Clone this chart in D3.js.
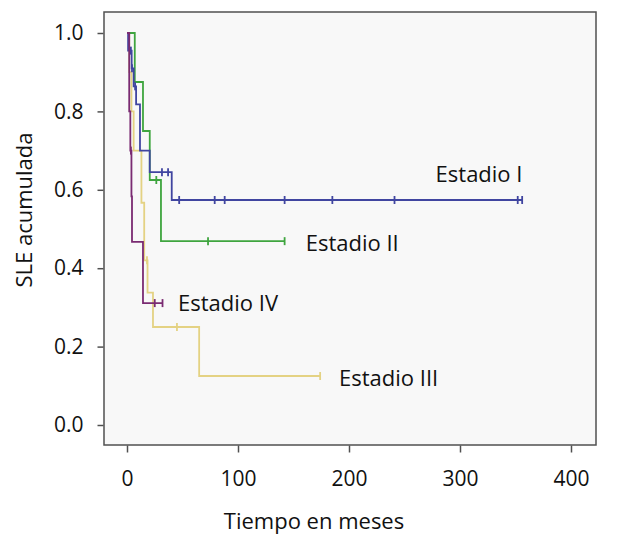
<!DOCTYPE html>
<html>
<head>
<meta charset="utf-8">
<script src="https://cdn.jsdelivr.net/npm/d3@7"></script>
<style>
  html, body { margin: 0; padding: 0; background: #ffffff; }
  svg { display: block; font-family: "Open Sans", "Noto Sans", sans-serif; }
</style>
</head>
<body>
<svg id="chart" width="619" height="535"></svg>
<script>
// ---- Data ----
const xTicks = [0, 100, 200, 300, 400];
const yTicks = [0.0, 0.2, 0.4, 0.6, 0.8, 1.0];
const xTitle = "Tiempo en meses";
const yTitle = "SLE acumulada";

// Estadio I
const s1Times = [0, 1, 4.2, 6, 8.2, 11.7, 20.5, 40.3];
const s1Surv  = [1.0, 0.955, 0.91, 0.864, 0.818, 0.70, 0.645, 0.574];
const s1Cens  = [3.5, 4.5, 7.3, 31.5, 37, 47, 79, 88, 142, 185, 241, 352, 356];
const s1End   = 356;

// Estadio II
const s2Times = [0, 7, 14.4, 20.5, 30.6];
const s2Surv  = [1.0, 0.875, 0.75, 0.625, 0.469];
const s2Cens  = [26.4, 73, 142];
const s2End   = 142;

// Estadio III
const s3Times = [0, 2, 4, 6, 13, 15.5, 18.5, 23.4, 65];
const s3Surv  = [1.0, 0.90, 0.80, 0.70, 0.567, 0.42, 0.3375, 0.25, 0.125];
const s3Cens  = [18, 45, 174];
const s3End   = 174;

// Estadio IV
const s4Times = [0, 2, 3, 4, 4.5, 14.4];
const s4Surv  = [1.0, 0.80, 0.70, 0.583, 0.467, 0.311];
const s4Cens  = [3.5, 25, 32];
const s4End   = 32;

const seriesNames  = ["Estadio I", "Estadio II", "Estadio III", "Estadio IV"];
const seriesColors = ["#4045a0", "#3fa53f", "#e4d283", "#7a2b72"];

// ---- Layout ----
const frame = { left: 104, top: 12, right: 596, bottom: 445 };
const svg = d3.select("#chart");

const x = d3.scaleLinear().domain([0, 400]).range([127, 571]);
const y = d3.scaleLinear().domain([0, 1]).range([425, 33]);

// plot background + frame
svg.append("rect")
  .attr("x", frame.left).attr("y", frame.top)
  .attr("width", frame.right - frame.left).attr("height", frame.bottom - frame.top)
  .attr("fill", "#f8f8f8").attr("stroke", "#505050").attr("stroke-width", 1.5);

// axes
const fontSize = 21;
const yAxis = svg.append("g")
  .attr("transform", `translate(${frame.left - 0.5},0)`)
  .call(d3.axisLeft(y).tickValues(yTicks).tickFormat(d3.format(".1f")).tickSize(6).tickPadding(14));
const xAxis = svg.append("g")
  .attr("transform", `translate(0,${frame.bottom + 0.5})`)
  .call(d3.axisBottom(x).tickValues(xTicks).tickFormat(d3.format("d")).tickSize(7).tickPadding(19));
[yAxis, xAxis].forEach(g => {
  g.select(".domain").remove();
  g.selectAll(".tick line").attr("stroke", "#505050").attr("stroke-width", 1.5);
  g.selectAll(".tick text").attr("font-size", fontSize).attr("fill", "#111")
    .attr("font-family", "'Open Sans', 'Noto Sans', sans-serif");
});

// axis titles
svg.append("text")
  .attr("x", 314).attr("y", 529)
  .attr("text-anchor", "middle").attr("font-size", fontSize + 1).attr("fill", "#111")
  .text(xTitle);
svg.append("text")
  .attr("transform", `translate(32,210) rotate(-90)`)
  .attr("text-anchor", "middle").attr("font-size", fontSize + 1).attr("fill", "#111")
  .text(yTitle);

// curves
const series = [
  { times: s1Times, surv: s1Surv, cens: s1Cens, end: s1End },
  { times: s2Times, surv: s2Surv, cens: s2Cens, end: s2End },
  { times: s3Times, surv: s3Surv, cens: s3Cens, end: s3End },
  { times: s4Times, surv: s4Surv, cens: s4Cens, end: s4End }
];

const line = d3.line().x(d => x(d[0])).y(d => y(d[1])).curve(d3.curveStepAfter);
function survAt(s, t) {
  let v = s.surv[0];
  for (let i = 0; i < s.times.length; i++) if (s.times[i] <= t) v = s.surv[i];
  return v;
}

const drawOrder = [2, 1, 0, 3];
drawOrder.forEach(i => {
  const s = series[i];
  const pts = s.times.map((t, k) => [t, s.surv[k]]);
  pts.push([s.end, s.surv[s.surv.length - 1]]);
  const g = svg.append("g");
  g.append("path").attr("d", line(pts))
    .attr("fill", "none").attr("stroke", seriesColors[i]).attr("stroke-width", 1.8);
  g.selectAll("line.cens").data(s.cens).join("line")
    .attr("class", "cens")
    .attr("x1", d => x(d)).attr("x2", d => x(d))
    .attr("y1", d => y(survAt(s, d)) - 4).attr("y2", d => y(survAt(s, d)) + 4)
    .attr("stroke", seriesColors[i]).attr("stroke-width", 1.8);
});

// labels
const labelPos = [
  { t: 278, v: 0.62 },
  { t: 161, v: 0.445 },
  { t: 191, v: 0.10 },
  { t: 46,  v: 0.29 }
];
labelPos.forEach((p, i) => {
  svg.append("text")
    .attr("x", x(p.t)).attr("y", y(p.v))
    .attr("font-size", fontSize + 1).attr("fill", "#111")
    .text(seriesNames[i]);
});
</script>
</body>
</html>
